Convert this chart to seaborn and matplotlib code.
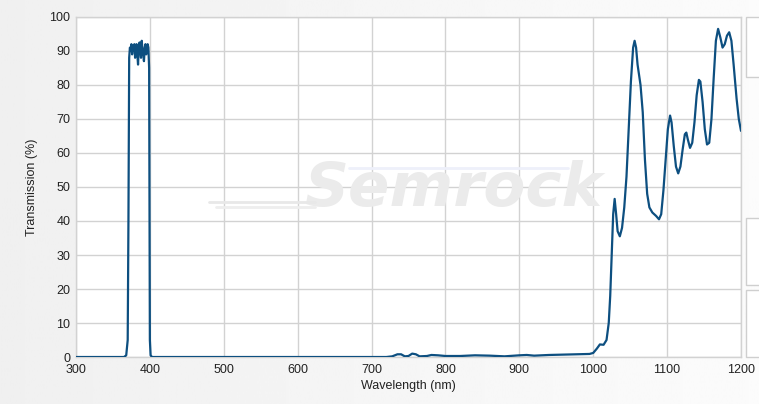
import numpy as np
import pandas as pd
import seaborn as sns
import matplotlib.pyplot as plt
from matplotlib.patches import Rectangle

# Wavelength (nm) and transmission (%)
wavelength = [
    300, 365, 368, 370, 371, 372, 373, 374, 375, 376, 377, 378, 379, 380,
    381, 382, 383, 384, 385, 386, 387, 388, 389, 390, 391, 392, 393, 394,
    395, 396, 397, 398, 399, 399.5, 400, 401, 403,
    720, 728, 735, 740, 745, 750, 755, 760, 765, 775, 781, 790, 800, 820,
    840, 860, 880, 900, 910, 920, 940, 960, 980, 995, 1000, 1005, 1009,
    1014, 1018, 1021, 1023, 1025, 1027, 1029, 1031, 1033, 1036, 1039, 1042,
    1045, 1048, 1051, 1054, 1056, 1058, 1060, 1064, 1067, 1070, 1073, 1076,
    1080, 1085, 1089, 1092, 1095, 1098, 1101, 1104, 1106, 1109, 1112, 1115,
    1118, 1121, 1124, 1126, 1128, 1131, 1134, 1137, 1140, 1143, 1145, 1148,
    1151, 1154, 1157, 1160, 1163, 1166, 1169, 1172, 1175, 1178, 1181, 1184,
    1187, 1190, 1194, 1197, 1200,
]
transmission = [
    0, 0, 0.5, 5, 40, 88, 91, 90, 92, 89, 91.5, 90, 92, 88,
    91, 92, 89, 86, 91, 92.5, 90, 88, 93, 90.5, 89, 87, 91, 92,
    89, 91, 92, 91, 85, 40, 5, 0.5, 0,
    0, 0.2, 0.8, 0.8, 0.2, 0.3, 1.0, 0.8, 0.2, 0.3, 0.6, 0.5, 0.3, 0.3,
    0.5, 0.4, 0.2, 0.5, 0.6, 0.4, 0.6, 0.7, 0.8, 0.9, 1.2, 2.5, 3.7,
    3.6, 5, 10, 18, 30, 42, 46.5, 42, 37, 35.5, 38, 44,
    53, 67, 81, 91, 93, 91, 86, 80, 72, 58, 48, 44,
    42.5, 41.5, 40.5, 42, 49, 58, 67, 71, 69, 62, 56, 54,
    56, 61, 65.5, 66, 64, 61.5, 63, 69, 77, 81.5, 81, 75,
    67, 62.5, 63, 70, 82, 93, 96.5, 94, 91, 92, 94.5, 95.5,
    93, 86, 76, 70, 66.5,
]
x_ticks = [300, 400, 500, 600, 700, 800, 900, 1000, 1100, 1200]
y_ticks = [0, 10, 20, 30, 40, 50, 60, 70, 80, 90, 100]

df = pd.DataFrame({"Wavelength (nm)": wavelength, "Transmission (%)": transmission})

sns.set_style("white")
plt.rcParams["font.family"] = ["Liberation Sans", "DejaVu Sans"]

fig = plt.figure(figsize=(7.59, 4.04), dpi=100, facecolor="#f4f4f4")

# soft grey gradient behind everything
bg = fig.add_axes([0, 0, 1, 1], zorder=-10)
grad = np.linspace(0.94, 0.985, 256).reshape(1, -1)
bg.imshow(grad, aspect="auto", cmap="gray", vmin=0, vmax=1, extent=[0, 1, 0, 1])
bg.axis("off")

ax = fig.add_axes([0.1001, 0.1163, 0.8762, 0.8417])
ax.set_facecolor("white")

sns.lineplot(data=df, x="Wavelength (nm)", y="Transmission (%)", ax=ax,
             color="#0d4f80", linewidth=1.6, zorder=3)

ax.set_xlim(300, 1200)
ax.set_ylim(0, 100)
ax.set_xticks(x_ticks)
ax.set_yticks(y_ticks)
ax.grid(True, color="#d2d2d2", linewidth=1)
ax.tick_params(length=0, labelsize=9, colors="#222222", pad=4)
ax.tick_params(axis="x", pad=5)
ax.set_xlabel("Wavelength (nm)", fontsize=9, color="#222222", labelpad=3)
ax.set_ylabel("Transmission (%)", fontsize=9, color="#222222", labelpad=8)
for s in ax.spines.values():
    s.set_color("#d2d2d2")
    s.set_linewidth(1)

# watermark
ax.text(0.567, 0.494, "Semrock", transform=ax.transAxes, fontsize=44,
        fontweight="bold", fontstyle="italic", family="DejaVu Sans",
        color="#ebebeb", ha="center", va="center", zorder=1)
ax.plot([0.2, 0.36], [0.456, 0.456], transform=ax.transAxes,
        color="#e8e8e8", linewidth=2, zorder=1)
ax.plot([0.21, 0.36], [0.441, 0.441], transform=ax.transAxes,
        color="#eeeeee", linewidth=2, zorder=1)
ax.plot([0.41, 0.74], [0.556, 0.556], transform=ax.transAxes,
        color="#eef0fa", linewidth=2, zorder=1)

# side panels on the right edge
W, H = 759, 404
for y0, y1 in [(17, 77), (218, 285), (290, 357)]:
    fig.patches.append(Rectangle((746 / W, 1 - y1 / H), 20 / W, (y1 - y0) / H,
                                 transform=fig.transFigure, facecolor="white",
                                 edgecolor="#cfcfcf", linewidth=1))

fig.savefig("out.png", dpi=100, facecolor=fig.get_facecolor())
